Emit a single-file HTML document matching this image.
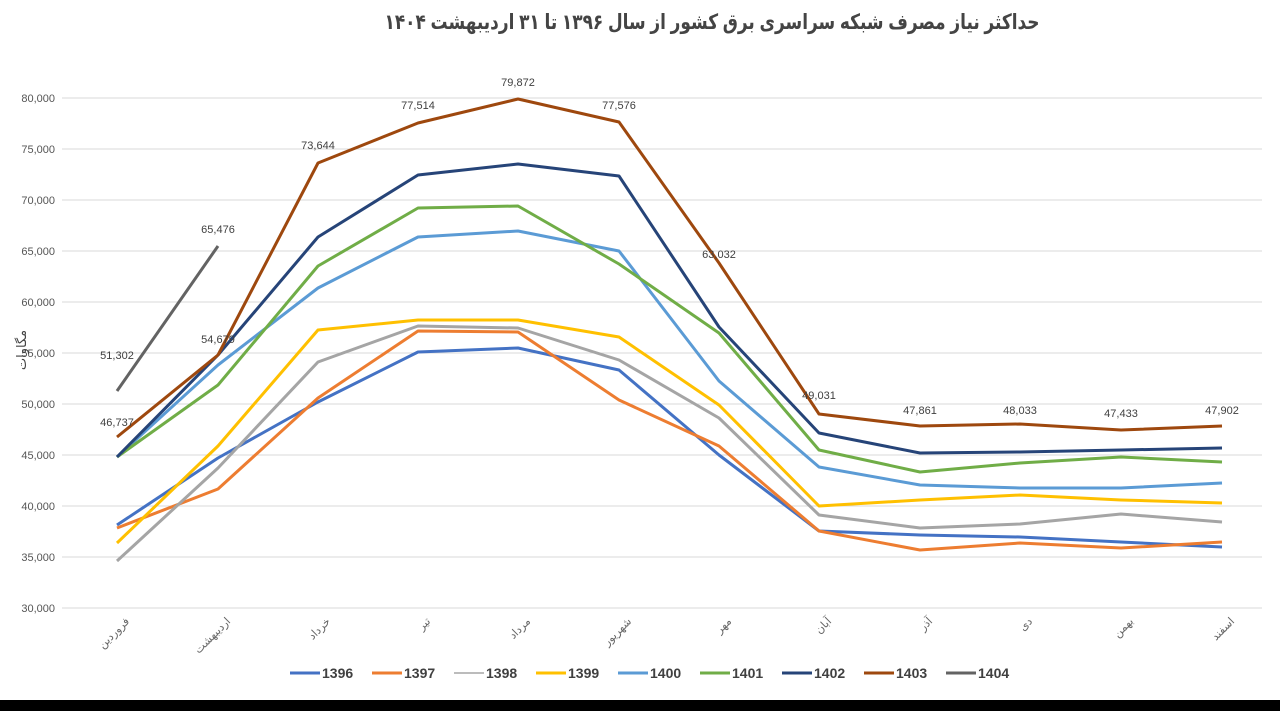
<!DOCTYPE html>
<html><head><meta charset="utf-8"><style>
body{margin:0;background:#fff;width:1280px;height:711px;overflow:hidden;position:relative;font-family:"Liberation Sans","Noto Sans CJK SC",sans-serif}
#bar{position:absolute;left:0;top:700px;width:1280px;height:11px;background:#000}
</style></head><body>
<svg width="1280" height="711" style="position:absolute;left:0;top:0" font-family="Liberation Sans, DejaVu Sans, sans-serif">
<text x="712" y="29" text-anchor="middle" font-size="21" font-weight="bold" fill="#444" direction="rtl" textLength="655" lengthAdjust="spacingAndGlyphs">حداکثر نیاز مصرف شبکه  سراسری برق کشور از سال ۱۳۹۶ تا ۳۱ اردیبهشت ۱۴۰۴</text>
<g stroke="#d9d9d9" stroke-width="1">
<line x1="62" x2="1262" y1="98" y2="98"/><line x1="62" x2="1262" y1="149" y2="149"/><line x1="62" x2="1262" y1="200" y2="200"/><line x1="62" x2="1262" y1="251" y2="251"/><line x1="62" x2="1262" y1="302" y2="302"/><line x1="62" x2="1262" y1="353" y2="353"/><line x1="62" x2="1262" y1="404" y2="404"/><line x1="62" x2="1262" y1="455" y2="455"/><line x1="62" x2="1262" y1="506" y2="506"/><line x1="62" x2="1262" y1="557" y2="557"/><line x1="62" x2="1262" y1="608" y2="608"/>
</g>
<g font-size="11" fill="#555" text-anchor="end">
<text x="55" y="102">80,000</text><text x="55" y="153">75,000</text><text x="55" y="204">70,000</text><text x="55" y="255">65,000</text><text x="55" y="306">60,000</text><text x="55" y="357">55,000</text><text x="55" y="408">50,000</text><text x="55" y="459">45,000</text><text x="55" y="510">40,000</text><text x="55" y="561">35,000</text><text x="55" y="612">30,000</text>
</g>
<text transform="translate(26,350) rotate(-90)" font-size="13" fill="#444" text-anchor="middle">مگاوات</text>
<g font-size="11" fill="#666" text-anchor="end">
<text transform="translate(130,622) rotate(-45)">فروردین</text>
<text transform="translate(231,622) rotate(-45)">اردیبهشت</text>
<text transform="translate(331,622) rotate(-45)">خرداد</text>
<text transform="translate(431,622) rotate(-45)">تیر</text>
<text transform="translate(531,622) rotate(-45)">مرداد</text>
<text transform="translate(632,622) rotate(-45)">شهریور</text>
<text transform="translate(732,622) rotate(-45)">مهر</text>
<text transform="translate(832,622) rotate(-45)">آبان</text>
<text transform="translate(933,622) rotate(-45)">آذر</text>
<text transform="translate(1033,622) rotate(-45)">دی</text>
<text transform="translate(1134,622) rotate(-45)">بهمن</text>
<text transform="translate(1235,622) rotate(-45)">اسفند</text>
</g>
<g fill="none" stroke-width="3" stroke-linejoin="round">
<polyline stroke="#4472c4" points="117,525 218,458 318,402 418,352 518,348 619,370 719,455 819,531 920,535 1020,537 1121,542 1222,547"/>
<polyline stroke="#ed7d31" points="117,528 218,489 318,398 418,331 518,332 619,400 719,446 819,531 920,550 1020,543 1121,548 1222,542"/>
<polyline stroke="#a5a5a5" points="117,561 218,468 318,362 418,326 518,328 619,360 719,418 819,515 920,528 1020,524 1121,514 1222,522"/>
<polyline stroke="#ffc000" points="117,543 218,446 318,330 418,320 518,320 619,337 719,405 819,506 920,500 1020,495 1121,500 1222,503"/>
<polyline stroke="#5b9bd5" points="117,457 218,365 318,288 418,237 518,231 619,251 719,381 819,467 920,485 1020,488 1121,488 1222,483"/>
<polyline stroke="#70ad47" points="117,457 218,385 318,266 418,208 518,206 619,264 719,333 819,450 920,472 1020,463 1121,457 1222,462"/>
<polyline stroke="#264478" points="117,457 218,355 318,237 418,175 518,164 619,176 719,327 819,433 920,453 1020,452 1121,450 1222,448"/>
<polyline stroke="#9e480e" points="117,437 218,355 318,163 418,123 518,99 619,122 719,263 819,414 920,426 1020,424 1121,430 1222,426"/>
<polyline stroke="#636363" points="117,391 218,246"/>
</g>
<g font-size="11" fill="#404040" text-anchor="middle">
<text x="117" y="426">46,737</text><text x="218" y="343">54,679</text><text x="318" y="149">73,644</text><text x="418" y="109">77,514</text><text x="518" y="86">79,872</text><text x="619" y="109">77,576</text><text x="719" y="258">63,032</text><text x="819" y="399">49,031</text><text x="920" y="414">47,861</text><text x="1020" y="414">48,033</text><text x="1121" y="417">47,433</text><text x="1222" y="414">47,902</text>
<text x="117" y="359">51,302</text><text x="218" y="233">65,476</text>
</g>
<g font-size="14" font-weight="bold" fill="#404040" stroke-width="3">
<line x1="290" x2="320" y1="673" y2="673" stroke="#4472c4"/><text x="322" y="678">1396</text>
<line x1="372" x2="402" y1="673" y2="673" stroke="#ed7d31"/><text x="404" y="678">1397</text>
<line x1="454" x2="484" y1="673" y2="673" stroke="#a5a5a5" stroke-width="1.5"/><text x="486" y="678">1398</text>
<line x1="536" x2="566" y1="673" y2="673" stroke="#ffc000"/><text x="568" y="678">1399</text>
<line x1="618" x2="648" y1="673" y2="673" stroke="#5b9bd5"/><text x="650" y="678">1400</text>
<line x1="700" x2="730" y1="673" y2="673" stroke="#70ad47"/><text x="732" y="678">1401</text>
<line x1="782" x2="812" y1="673" y2="673" stroke="#264478"/><text x="814" y="678">1402</text>
<line x1="864" x2="894" y1="673" y2="673" stroke="#9e480e"/><text x="896" y="678">1403</text>
<line x1="946" x2="976" y1="673" y2="673" stroke="#636363"/><text x="978" y="678">1404</text>
</g>
</svg>
<div id="bar"></div>
</body></html>
